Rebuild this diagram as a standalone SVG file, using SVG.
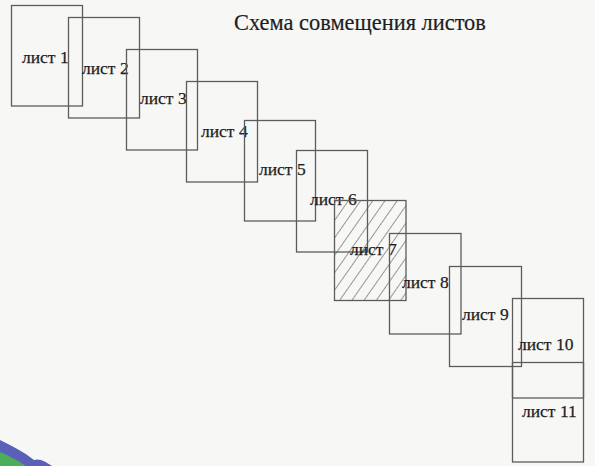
<svg xmlns="http://www.w3.org/2000/svg" width="595" height="466" viewBox="0 0 595 466">
<style>
.sheet{fill:none;stroke:#5c5c5c;stroke-width:1.3}
.lbl{font-family:"Liberation Serif","Times New Roman",serif;font-size:17.5px;fill:#1e1e1e;stroke:#1e1e1e;stroke-width:0.25}
.title{font-family:"Liberation Serif","Times New Roman",serif;font-size:22.4px;fill:#1e1e1e;stroke:#1e1e1e;stroke-width:0.2}
</style>
<defs>
<pattern id="hatch" patternUnits="userSpaceOnUse" width="10" height="10" patternTransform="rotate(35)">
<line x1="0" y1="0" x2="0" y2="10" stroke="#555" stroke-width="1.2"/>
</pattern>
</defs>
<rect width="595" height="466" fill="#f7f7f5"/>
<path d="M0,440 C12,446 24,452 34,460 C40,458 46,462 52,466 L0,466 Z" fill="#5a5fb8"/>
<path d="M0,452 C10,456 20,462 26,466 L0,466 Z" fill="#4cae5a"/>
<text class="title" x="234" y="30">Схема совмещения листов</text>
<g id="connectors"></g>
<g id="sheet1"><rect class="sheet" x="11.5" y="5.5" width="71" height="100.5"/><text class="lbl" x="22" y="63">лист 1</text></g>
<g id="sheet2"><rect class="sheet" x="68.5" y="17.5" width="71" height="100.5"/><text class="lbl" x="82" y="74">лист 2</text></g>
<g id="sheet3"><rect class="sheet" x="126.5" y="49.5" width="71" height="100.5"/><text class="lbl" x="140" y="104">лист 3</text></g>
<g id="sheet4"><rect class="sheet" x="186.5" y="81.5" width="71" height="100.5"/><text class="lbl" x="201" y="137">лист 4</text></g>
<g id="sheet5"><rect class="sheet" x="244.5" y="120.5" width="71" height="100.5"/><text class="lbl" x="259" y="175">лист 5</text></g>
<g id="sheet6"><rect class="sheet" x="296.5" y="150.5" width="71" height="101.5"/><text class="lbl" x="310" y="205">лист 6</text></g>
<g id="sheet7"><rect class="sheet" x="334.5" y="200.5" width="71.5" height="100" style="fill:url(#hatch)"/><text class="lbl" x="350" y="255">лист 7</text></g>
<g id="sheet8"><rect class="sheet" x="389.5" y="233.5" width="71.5" height="100.5"/><text class="lbl" x="402" y="288">лист 8</text></g>
<g id="sheet9"><rect class="sheet" x="449.5" y="266.5" width="72" height="100"/><text class="lbl" x="462" y="320">лист 9</text></g>
<g id="sheet10"><rect class="sheet" x="512.5" y="298.5" width="71" height="99.5"/><text class="lbl" x="518" y="350">лист 10</text></g>
<g id="sheet11"><rect class="sheet" x="512.5" y="362.5" width="71" height="99.5"/><text class="lbl" x="522" y="417">лист 11</text></g>
</svg>
